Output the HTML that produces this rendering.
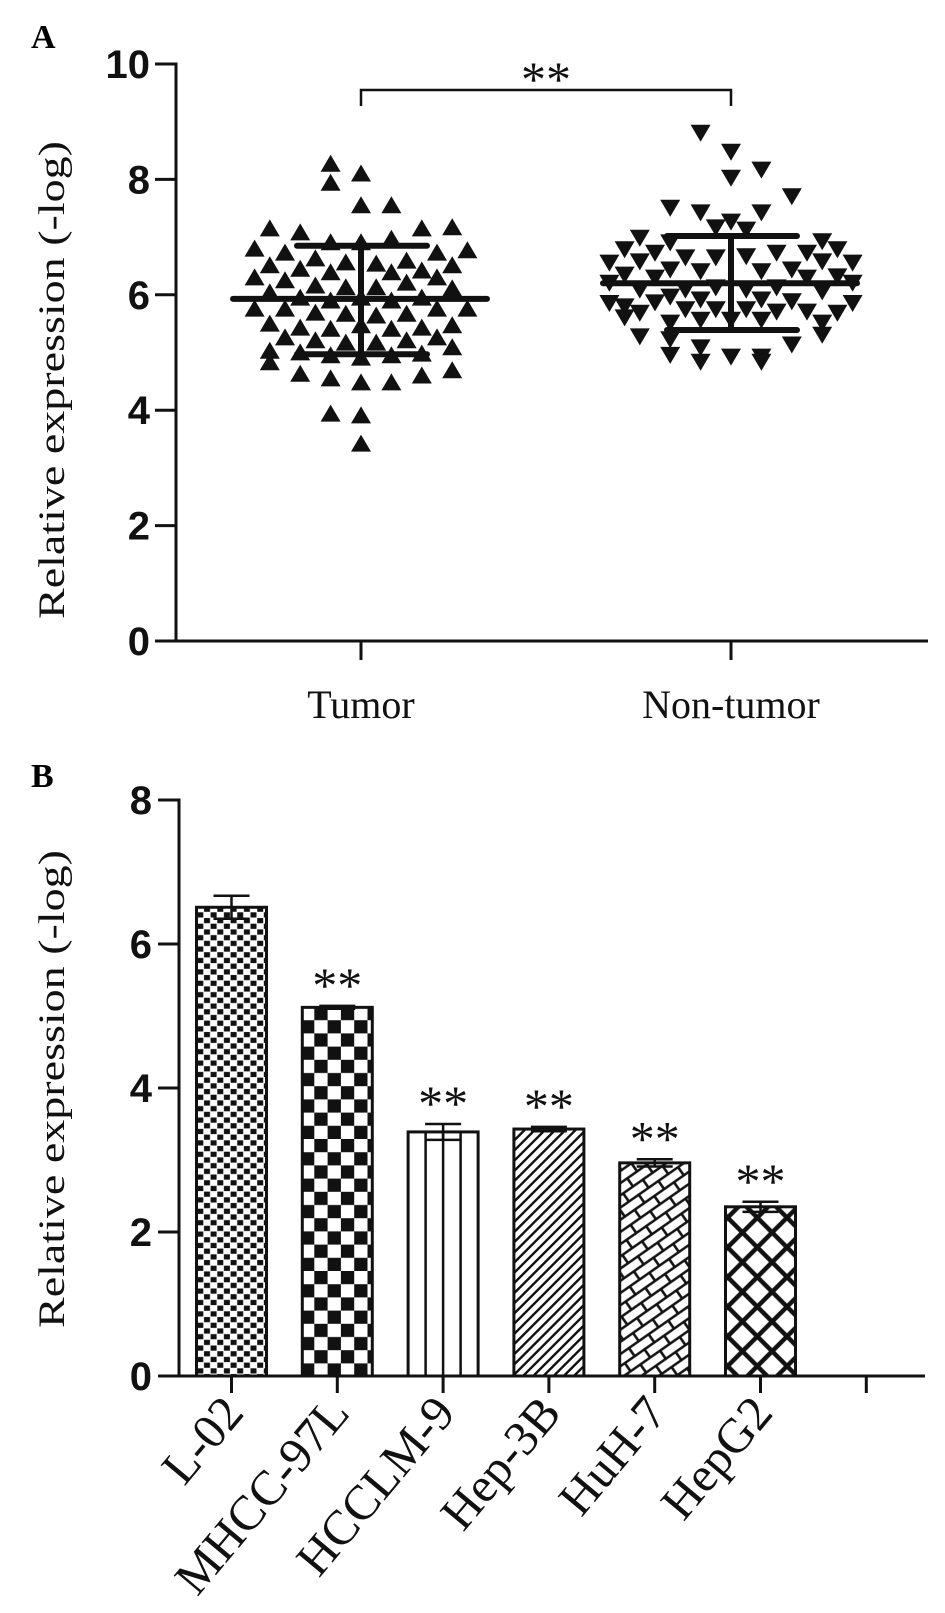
<!DOCTYPE html>
<html><head><meta charset="utf-8"><style>
html,body{margin:0;padding:0;background:#fff;}
svg{display:block;}
</style></head><body>
<svg id="fig" xmlns="http://www.w3.org/2000/svg" width="945" height="1613" viewBox="0 0 945 1613">
<defs>
<pattern id="pL02" patternUnits="userSpaceOnUse" width="13.3" height="11.4" x="197" y="0">
<rect width="13.3" height="11.4" fill="#fff"/><rect x="0.3" y="0.3" width="6" height="5.2" fill="#111"/><rect x="7" y="6" width="6" height="5.2" fill="#111"/></pattern>
<pattern id="pMHCC" patternUnits="userSpaceOnUse" width="26.6" height="26.4" x="301" y="1007">
<rect width="26.6" height="26.4" fill="#fff"/><rect x="13.3" y="0" width="13.3" height="13.2" fill="#111"/><rect x="0" y="13.2" width="13.3" height="13.2" fill="#111"/></pattern>
<pattern id="pHep3B" patternUnits="userSpaceOnUse" width="7.2" height="20" patternTransform="rotate(45)">
<rect width="7.2" height="20" fill="#fff"/><line x1="3.6" y1="0" x2="3.6" y2="20" stroke="#111" stroke-width="2.4"/></pattern>
<pattern id="pHuH7" patternUnits="userSpaceOnUse" width="24" height="20" patternTransform="rotate(-35)">
<rect width="24" height="20" fill="#fff"/><line x1="0" y1="5" x2="24" y2="5" stroke="#111" stroke-width="2.6"/><line x1="0" y1="15" x2="24" y2="15" stroke="#111" stroke-width="2.6"/><line x1="6" y1="5" x2="6" y2="15" stroke="#111" stroke-width="2.6"/><line x1="18" y1="15" x2="18" y2="20" stroke="#111" stroke-width="2.6"/><line x1="18" y1="0" x2="18" y2="5" stroke="#111" stroke-width="2.6"/></pattern>
<pattern id="pHepG2" patternUnits="userSpaceOnUse" width="21" height="21" patternTransform="rotate(45)">
<rect width="21" height="21" fill="#fff"/><line x1="0" y1="10.5" x2="21" y2="10.5" stroke="#111" stroke-width="4.5"/><line x1="10.5" y1="0" x2="10.5" y2="21" stroke="#111" stroke-width="4.5"/></pattern>
</defs>
<text x="31" y="48" font-family="Liberation Serif, serif" font-weight="bold" font-size="34">A</text>
<text x="31" y="787" font-family="Liberation Serif, serif" font-weight="bold" font-size="34">B</text>
<g id="gA"></g>
<g id="gB"></g>
</svg>
<script>
// ---------- Panel A data ----------
const aCategories = ["Tumor", "Non-tumor"];
const aTicks = [0, 2, 4, 6, 8, 10];
const tumorValues = [8.28,8.11,7.95,7.56,7.56,7.16,7.09,7.16,7.18,
6.81,6.74,6.92,6.92,6.98,6.74,6.78,
6.52,6.46,6.64,6.57,6.55,6.6,6.43,6.52,
6.31,6.26,6.4,6.4,6.31,6.17,6.14,6.14,6.22,6.05,6.12,
5.96,5.91,5.96,5.91,5.96,
5.77,5.77,5.77,5.77,5.7,5.68,5.65,5.68,
5.51,5.44,5.42,5.48,5.42,5.44,5.48,
5.27,5.22,5.18,5.18,5.22,5.27,
5.04,5.01,4.96,4.92,4.96,4.99,5.1,
4.84,4.64,4.56,4.49,4.49,4.61,4.7,
3.95,3.92,3.43];
const tumorCols = [-2,0,-2,0,2,-6,-4,4,6,
-7,-5,-2,0,2,5,7,
-6,-4,-3,-1,1,3,4,6,
-7,-5,-2,2,5,-3,-1,1,3,-6,6,
-4,-2,0,2,4,
-7,-5,5,7,-3,-1,1,3,
-6,-4,-2,0,2,4,6,
-5,-3,-1,1,3,5,
-6,-4,-2,0,2,4,6,
-6,-4,-2,0,2,4,6,
-2,0,0];
const nonTumorValues = [8.8,8.47,8.16,8.02,7.7,7.5,7.42,7.26,7.42,7.16,7.12,
6.98,6.92,6.78,6.72,6.9,6.64,6.64,6.66,6.72,6.72,6.78,
6.57,6.43,6.4,6.4,6.43,6.57,6.34,6.29,6.31,6.29,
6.08,6.08,6.12,6.08,6.12,6.05,
5.79,5.86,5.96,5.91,5.91,5.88,
5.68,5.74,5.74,5.74,5.7,5.7,5.68,
5.6,5.51,5.56,5.56,5.56,5.51,
5.27,5.22,5.08,4.92,4.92,5.13,5.3,
4.95,4.83,4.83,
6.55,6.2,5.85,6.55,6.2,5.85];
const nonTumorCols = [-2,0,2,0,4,-4,-2,0,2,-1,1,
-6,6,-7,-5,-4,-3,-1,1,3,5,7,
-6,-4,-2,2,4,6,-7,-5,7,5,
-6,-3,-1,1,3,6,
-7,-5,-4,-2,2,4,
-6,-3,-1,1,3,5,7,
-7,-4,-2,0,2,6,
-6,-4,-2,0,2,4,6,
-4,-2,2,
-8,-8,-8,8,8,8];
const aMeans = [5.93, 6.2];
const aLow = [4.97, 5.39];
const aHigh = [6.85, 7.02];

// ---------- Panel B data ----------
const bCategories = ["L-02","MHCC-97L","HCCLM-9","Hep-3B","HuH-7","HepG2"];
const bValues = [6.51, 5.12, 3.39, 3.43, 2.96, 2.35];
const bErrors = [0.16, 0.02, 0.11, 0.03, 0.05, 0.07];
const bSignif = ["", "**", "**", "**", "**", "**"];
const bTicks = [0, 2, 4, 6, 8];
const bFills = ["url(#pL02)","url(#pMHCC)","#fff","url(#pHep3B)","url(#pHuH7)","url(#pHepG2)"];

const NS = "http://www.w3.org/2000/svg";
function mk(tag, attrs, parent){
  const e = document.createElementNS(NS, tag);
  for (const k in attrs) e.setAttribute(k, attrs[k]);
  parent.appendChild(e);
  return e;
}

// ---------- Panel A ----------
(function(){
  const g = document.getElementById("gA");
  const yA = v => 641 - v * 57.7;
  const xA = i => [361, 731][i];
  const colW = 15.2;
  const ya = mk("line", {x1:176, y1:yA(10)-1.5, x2:176, y2:yA(0)+1.5, stroke:"#111", "stroke-width":3}, g);
  
  
  aTicks.forEach(t => {
    const tl = mk("line", {x1:155, y1:yA(t), x2:176, y2:yA(t), stroke:"#111", "stroke-width":3}, g);
    
    
    const tx = mk("text", {x:150, y:yA(t)+14, "text-anchor":"end", "font-family":"Liberation Sans, sans-serif", "font-weight":"bold", "font-size":40, fill:"#111"}, g);
    tx.textContent = t;
    
    
  });
  const xa = mk("line", {x1:176, y1:yA(0), x2:928, y2:yA(0), stroke:"#111", "stroke-width":3}, g);
  
  
  aCategories.forEach((c, i) => {
    const tl = mk("line", {x1:xA(i), y1:yA(0), x2:xA(i), y2:yA(0)+19, stroke:"#111", "stroke-width":3}, g);
    
    
    const tx = mk("text", {x:xA(i), y:718, "text-anchor":"middle", "font-family":"Liberation Serif, serif", "font-size":40, fill:"#111"}, g);
    tx.textContent = c;
    
    
  });
  const yt = mk("text", {x:0, y:0, transform:"translate(64,380) rotate(-90)", "text-anchor":"middle", "font-family":"Liberation Serif, serif", "font-size":37, fill:"#111", textLength:478, lengthAdjust:"spacingAndGlyphs"}, g);
  yt.textContent = "Relative expression (-log)";
  
  
  function tri(cx, cy, up){
    const w = 10, h = 8.5;
    return up ? `${cx-w},${cy+h} ${cx+w},${cy+h} ${cx},${cy-h}` : `${cx-w},${cy-h} ${cx+w},${cy-h} ${cx},${cy+h}`;
  }
  tumorValues.forEach((v, k) => {
    const p = mk("polygon", {points: tri(xA(0) + tumorCols[k]*colW, yA(v), true), fill:"#111"}, g);
    
    
  });
  nonTumorValues.forEach((v, k) => {
    const p = mk("polygon", {points: tri(xA(1) + nonTumorCols[k]*colW, yA(v), false), fill:"#111"}, g);
    
    
  });
  aMeans.forEach((m, i) => {
    const cx = xA(i);
    const ml = mk("line", {x1:cx-128, y1:yA(m), x2:cx+126, y2:yA(m), stroke:"#111", "stroke-width":6, "stroke-linecap":"round"}, g);
    
    
    const vl = mk("line", {x1:cx, y1:yA(aHigh[i]), x2:cx, y2:yA(aLow[i]), stroke:"#111", "stroke-width":6}, g);
    
    
    [aHigh[i], aLow[i]].forEach(v => {
      const cl = mk("line", {x1:cx-64, y1:yA(v), x2:cx+66, y2:yA(v), stroke:"#111", "stroke-width":6, "stroke-linecap":"round"}, g);
      
      
    });
  });
  const br = mk("polyline", {points:`${xA(0)},106 ${xA(0)},90 ${xA(1)},90 ${xA(1)},106`, fill:"none", stroke:"#111", "stroke-width":2.5}, g);
  
  
  const st = mk("text", {x:(xA(0)+xA(1))/2, y:96, "text-anchor":"middle", "font-family":"Liberation Serif, serif", "font-size":50, fill:"#111"}, g);
  st.textContent = "**";
  
  
})();

// ---------- Panel B ----------
(function(){
  const g = document.getElementById("gB");
  const yB = v => 1376 - v * 72;
  const xB = i => 231.5 + i * 105.8;
  const bw = 70;
  const ya = mk("line", {x1:179, y1:yB(8)-1.5, x2:179, y2:yB(0)+1.5, stroke:"#111", "stroke-width":3}, g);
  
  
  bTicks.forEach(t => {
    const tl = mk("line", {x1:158, y1:yB(t), x2:179, y2:yB(t), stroke:"#111", "stroke-width":3}, g);
    
    
    const tx = mk("text", {x:152, y:yB(t)+14, "text-anchor":"end", "font-family":"Liberation Sans, sans-serif", "font-weight":"bold", "font-size":40, fill:"#111"}, g);
    tx.textContent = t;
    
    
  });
  const yt = mk("text", {x:0, y:0, transform:"translate(64,1089) rotate(-90)", "text-anchor":"middle", "font-family":"Liberation Serif, serif", "font-size":37, fill:"#111", textLength:478, lengthAdjust:"spacingAndGlyphs"}, g);
  yt.textContent = "Relative expression (-log)";
  
  
  bCategories.forEach((c, i) => {
    const cx = xB(i), top = yB(bValues[i]);
    const r = mk("rect", {x:cx-bw/2, y:top, width:bw, height:yB(0)-top, fill:bFills[i], stroke:"#111", "stroke-width":3}, g);
    
    
    if (i === 2) {
      for (let k = 1; k < 4; k++) {
        const vl = mk("line", {x1:cx-bw/2+k*bw/4, y1:top, x2:cx-bw/2+k*bw/4, y2:yB(0), stroke:"#111", "stroke-width":2.5}, g);
        
        
      }
    }
    const hi = yB(bValues[i] + bErrors[i]), lo = yB(bValues[i] - bErrors[i]);
    const el = mk("line", {x1:cx, y1:hi, x2:cx, y2:lo, stroke:"#111", "stroke-width":2.5}, g);
    
    
    [hi, lo].forEach(y => {
      const cl = mk("line", {x1:cx-18, y1:y, x2:cx+18, y2:y, stroke:"#111", "stroke-width":2.5}, g);
      
      
    });
    if (bSignif[i]) {
      const st = mk("text", {x:cx, y:hi-4, "text-anchor":"middle", "font-family":"Liberation Serif, serif", "font-size":50, fill:"#111"}, g);
      st.textContent = bSignif[i];
      
      
    }
    const tl = mk("line", {x1:cx, y1:yB(0), x2:cx, y2:yB(0)+17, stroke:"#111", "stroke-width":3}, g);
    
    
    const lx = cx + 14, ly = yB(0) + 38;
    const tx = mk("text", {x:lx, y:ly, transform:`rotate(-50 ${lx} ${ly})`, "text-anchor":"end", "font-family":"Liberation Serif, serif", "font-size":49, fill:"#111"}, g);
    tx.textContent = c;
    
    
  });
  const xa = mk("line", {x1:179, y1:yB(0), x2:925, y2:yB(0), stroke:"#111", "stroke-width":3}, g);
  
  
  const et = mk("line", {x1:xB(6), y1:yB(0), x2:xB(6), y2:yB(0)+17, stroke:"#111", "stroke-width":3}, g);
  
  
})();
</script>
</body></html>
